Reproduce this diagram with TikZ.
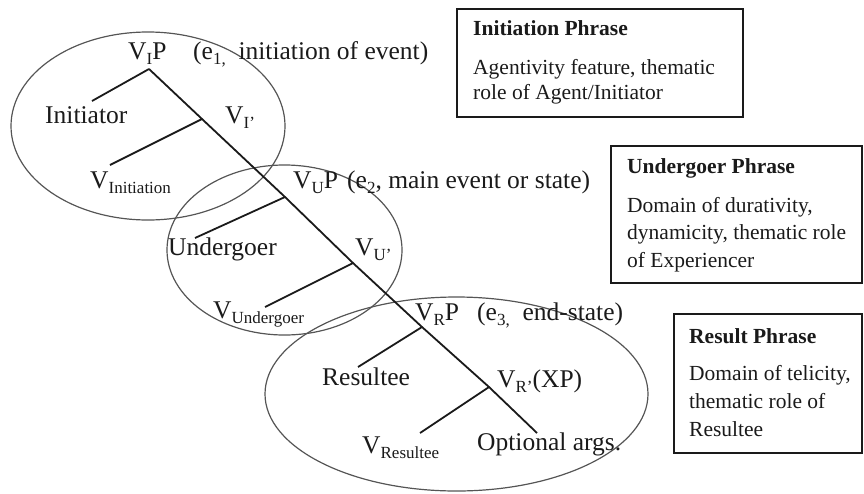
\documentclass[tikz,border=0pt]{standalone}
\usepackage{fontspec}
\setmainfont{Liberation Serif}
\newcommand\sbs[1]{\raisebox{-0.2em}{\fontsize{17}{17}\selectfont #1}}
\definecolor{ink}{HTML}{1A1A1A}
\definecolor{ring}{HTML}{555555}
\begin{document}
\begin{tikzpicture}[x=1pt,y=-1pt,
  lab/.style={font=\fontsize{25.5}{30}\selectfont, text=ink, inner sep=0pt, anchor=base west},
  boxtitle/.style={font=\fontsize{21.5}{26}\selectfont\bfseries, text=ink, inner sep=0pt, anchor=base west},
  boxtext/.style={font=\fontsize{21.5}{26}\selectfont, text=ink, inner sep=0pt, anchor=base west},
  boxframe/.style={draw=ink, line width=1.4pt, inner sep=0pt},
  branch/.style={draw=ink, line width=1.8pt},
  ringline/.style={draw=ring, line width=1.2pt}]
\useasboundingbox (0,0) rectangle (864,493);

% domains
\draw[ringline] (148,126) ellipse [x radius=137pt, y radius=94pt];
\draw[ringline] (284.5,250) ellipse [x radius=117.5pt, y radius=85pt];
\draw[ringline] (456.5,394) ellipse [x radius=191.5pt, y radius=97pt];

% tree coordinates
\coordinate (apex) at (149,69);
\coordinate (j1) at (202,119);
\coordinate (j2) at (285,197);
\coordinate (j3) at (353,263);
\coordinate (j4) at (422,327);
\coordinate (j5) at (489,387);
\coordinate (tail) at (537,433);
\coordinate (l0) at (92,101);
\coordinate (l1) at (110,165);
\coordinate (l2) at (195,238);
\coordinate (l3) at (265,307);
\coordinate (l4) at (358,367);
\coordinate (l5) at (420,433);

\draw[branch] (apex) -- (j1) -- (j2) -- (j3) -- (j4) -- (j5) -- (tail);
\draw[branch] (apex) -- (l0);
\draw[branch] (j1) -- (l1);
\draw[branch] (j2) -- (l2);
\draw[branch] (j3) -- (l3);
\draw[branch] (j4) -- (l4);
\draw[branch] (j5) -- (l5);

% labels
\node[lab] (vip) at (128,59) {V\sbs{I}P};
\node[lab] (e1) at (193,59) {(e\sbs{1,}\ \ initiation of event)};
\node[lab] (initiator) at (45,123) {Initiator};
\node[lab] (vi1) at (225,123) {V\sbs{I’}};
\node[lab] (vinit) at (90,188) {V\sbs{Initiation}};
\node[lab] (vup) at (293,188) {V\sbs{U}P};
\node[lab] (e2) at (347,188) {(e\sbs{2}, main event or state)};
\node[lab] (undergoer) at (168,255) {Undergoer};
\node[lab] (vu1) at (355,255) {V\sbs{U’}};
\node[lab] (vund) at (213,318) {V\sbs{Undergoer}};
\node[lab] (vrp) at (415,320) {V\sbs{R}P};
\node[lab] (e3) at (477,320) {(e\sbs{3,}\ \ end-state)};
\node[lab] (resultee) at (322,385) {Resultee};
\node[lab] (vr1) at (497,387) {V\sbs{R’}(XP)};
\node[lab] (vres) at (362,453) {V\sbs{Resultee}};
\node[lab] (opt) at (477,450) {Optional args.};

% boxes
\node[boxframe, minimum width=286pt, minimum height=108pt] (box1) at (600,63) {};
\node[boxtitle] (b1t) at (473,35) {Initiation Phrase};
\node[boxtext] (b1a) at (473,74) {Agentivity feature, thematic};
\node[boxtext] (b1b) at (473,99) {role of Agent/Initiator};

\node[boxframe, minimum width=251pt, minimum height=137pt] (box2) at (736.5,214.5) {};
\node[boxtitle] (b2t) at (627,173) {Undergoer Phrase};
\node[boxtext] (b2a) at (627,212) {Domain of durativity,};
\node[boxtext] (b2b) at (627,239) {dynamicity, thematic role};
\node[boxtext] (b2c) at (627,267) {of Experiencer};

\node[boxframe, minimum width=188pt, minimum height=139pt] (box3) at (768,383.5) {};
\node[boxtitle] (b3t) at (689,343) {Result Phrase};
\node[boxtext] (b3a) at (689,380) {Domain of telicity,};
\node[boxtext] (b3b) at (689,408) {thematic role of};
\node[boxtext] (b3c) at (689,436) {Resultee};
\end{tikzpicture}
\end{document}
